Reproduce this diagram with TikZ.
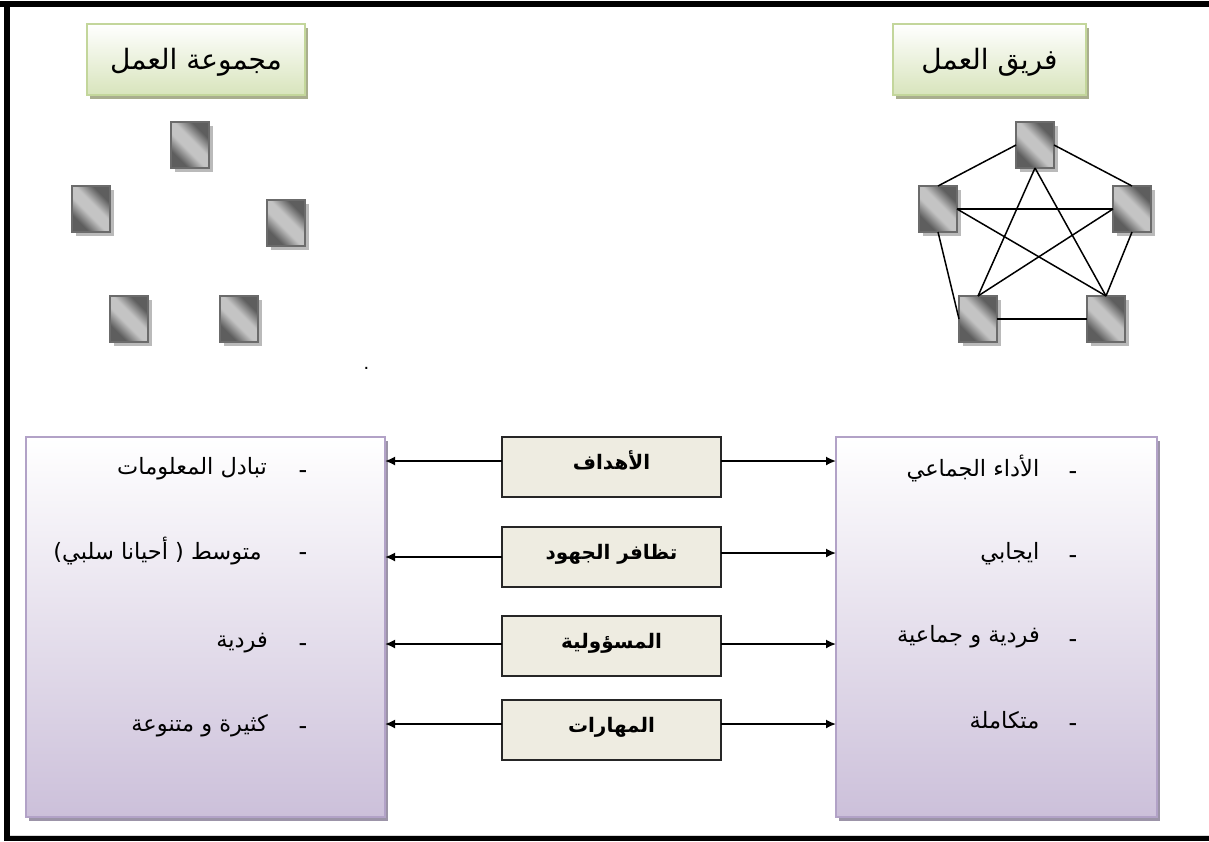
\documentclass[tikz,border=0pt]{standalone}
\usepackage{fontspec}
\setmainfont{Liberation Sans}
\newfontfamily\arfont[Script=Arabic]{DejaVu Sans}
\newfontfamily\arbold[Script=Arabic]{DejaVu Sans Bold}
\TeXXeTstate=1
\usetikzlibrary{shadows,arrows.meta}
\definecolor{grnb}{HTML}{C3D69B}
\definecolor{grnf}{HTML}{D8E4BC}
\definecolor{grns}{HTML}{A9AE8E}
\definecolor{purb}{HTML}{B2A2C7}
\definecolor{purf}{HTML}{CCC0DA}
\definecolor{purs}{HTML}{9C94A8}
\definecolor{midf}{HTML}{EEECE1}
\definecolor{memd}{HTML}{5E5E5E}
\definecolor{meml}{HTML}{C4C4C4}
\pgfdeclarehorizontalshading{memshade}{100bp}{color(0bp)=(memd);color(29bp)=(memd);color(44bp)=(meml);color(56bp)=(meml);color(71bp)=(memd);color(100bp)=(memd)}
\newcommand\rl[1]{\beginR #1\endR}
\newcommand\ml[1]{\rule[-17pt]{0pt}{39pt}\rl{#1}}
\tikzset{
  x=1pt,y=-1pt,
  titlebox/.style={draw=grnb,line width=2pt,top color=white,bottom color=grnf,inner sep=0,outer sep=0,minimum height=71pt,
    font=\arfont\fontsize{28}{32}\selectfont,
    drop shadow={shadow xshift=3pt,shadow yshift=-4pt,fill=grns,opacity=1}},
  member/.style={draw=black!58,line width=2pt,shading=memshade,shading angle=45,
    inner sep=0,outer sep=0,minimum width=38pt,minimum height=46pt,
    drop shadow={shadow xshift=3.5pt,shadow yshift=-4pt,fill=black!27,opacity=1}},
  panel/.style={draw=purb,line width=2pt,top color=white,bottom color=purf,inner sep=0,outer sep=0,minimum height=380pt,
    drop shadow={shadow xshift=3pt,shadow yshift=-4pt,fill=purs,opacity=1}},
  midbox/.style={draw=black!85,line width=1.5pt,fill=midf,inner sep=0,outer sep=0,minimum width=219pt,minimum height=60pt,
    font=\arbold\fontsize{20}{23}\selectfont},
  item/.style={anchor=east,inner sep=0,font=\arfont\fontsize{22.5}{26}\selectfont},
  dashmark/.style={inner sep=0,font=\fontsize{26}{30}\selectfont},
  link/.style={line width=1.5pt,black},
  arr/.style={line width=1.7pt,black,-{Latex[length=10pt,width=9pt]}},
}
\begin{document}
\begin{tikzpicture}
\useasboundingbox (0,0) rectangle (1209,841);
\fill[white] (0,0) rectangle (1209,841);
% frame
\fill[black] (0,1) rectangle (1209,7);
\fill[black] (4,1) rectangle (9.5,841);
\fill[black] (4,836) rectangle (1209,841);
\fill[black!15] (10,835) rectangle (1209,836);
% titles
\node[titlebox,minimum width=218pt] (tl) at (196,59.5) {\rule[-15pt]{0pt}{50pt}\rl{مجموعة العمل}};
\node[titlebox,minimum width=193pt] (tr) at (989.5,59.5) {\rule[-15pt]{0pt}{50pt}\rl{فريق العمل}};
% group members
\node[member] (g1) at (190,145) {};
\node[member] (g2) at (91,209) {};
\node[member] (g3) at (286,223) {};
\node[member] (g4) at (129,319) {};
\node[member] (g5) at (239,319) {};
% team members
\node[member] (t1) at (1035,145) {};
\node[member] (t2) at (938,209) {};
\node[member] (t3) at (1132,209) {};
\node[member] (t4) at (978,319) {};
\node[member] (t5) at (1106,319) {};
\draw[link] (t1.west) -- (t2.north);
\draw[link] (t1.east) -- (t3.north);
\draw[link] (t1.south) -- (t4.north);
\draw[link] (t1.south) -- (t5.north);
\draw[link] (t2.east) -- (t3.west);
\draw[link] (t2.east) -- (t5.north);
\draw[link] (t3.west) -- (t4.north);
\draw[link] (t2.south) -- (t4.west);
\draw[link] (t3.south) -- (t5.north);
\draw[link] (t4.east) -- (t5.west);
\node[inner sep=0,font=\fontsize{20}{22}\selectfont] (pt) at (366.5,368) {.};
% panels
\node[panel,minimum width=359pt] (pl) at (205.5,627) {};
\node[panel,minimum width=321pt] (pr) at (996.5,627) {};
% middle boxes
\node[midbox] (m1) at (611.5,467) {\ml{الأهداف}};
\node[midbox] (m2) at (611.5,557) {\ml{تظافر الجهود}};
\node[midbox] (m3) at (611.5,646) {\ml{المسؤولية}};
\node[midbox] (m4) at (611.5,730) {\ml{المهارات}};
% rows
\coordinate (a1) at (0,461);
\coordinate (a2) at (0,557);
\coordinate (a2r) at (0,553);
\coordinate (a3) at (0,644);
\coordinate (a4) at (0,724);
\draw[arr] (m1.west |- a1) -- (pl.east |- a1);
\draw[arr] (m2.west |- a2) -- (pl.east |- a2);
\draw[arr] (m3.west |- a3) -- (pl.east |- a3);
\draw[arr] (m4.west |- a4) -- (pl.east |- a4);
\draw[arr] (m1.east |- a1) -- (pr.west |- a1);
\draw[arr] (m2.east |- a2r) -- (pr.west |- a2r);
\draw[arr] (m3.east |- a3) -- (pr.west |- a3);
\draw[arr] (m4.east |- a4) -- (pr.west |- a4);
% left items
\node[item] (l1) at (267,469) {\rl{تبادل المعلومات}};
\node[item] (l2) at (262,551) {\rl{متوسط ( أحيانا سلبي)}};
\node[item] (l3) at (268,643) {\rl{فردية}};
\node[item] (l4) at (268,726) {\rl{كثيرة و متنوعة}};
\node[dashmark] (ld1) at (303,475) {-};
\node[dashmark] (ld2) at (303,557) {-};
\node[dashmark] (ld3) at (303,648) {-};
\node[dashmark] (ld4) at (303,731) {-};
% right items
\node[item] (r1) at (1039.5,468) {\rl{الأداء الجماعي}};
\node[item] (r2) at (1039.5,554) {\rl{ايجابي}};
\node[item] (r3) at (1040,637) {\rl{فردية و جماعية}};
\node[item] (r4) at (1039.5,720) {\rl{متكاملة}};
\node[dashmark] (rd1) at (1073,476) {-};
\node[dashmark] (rd2) at (1073,560) {-};
\node[dashmark] (rd3) at (1073,644) {-};
\node[dashmark] (rd4) at (1073,728) {-};
\end{tikzpicture}
\end{document}
